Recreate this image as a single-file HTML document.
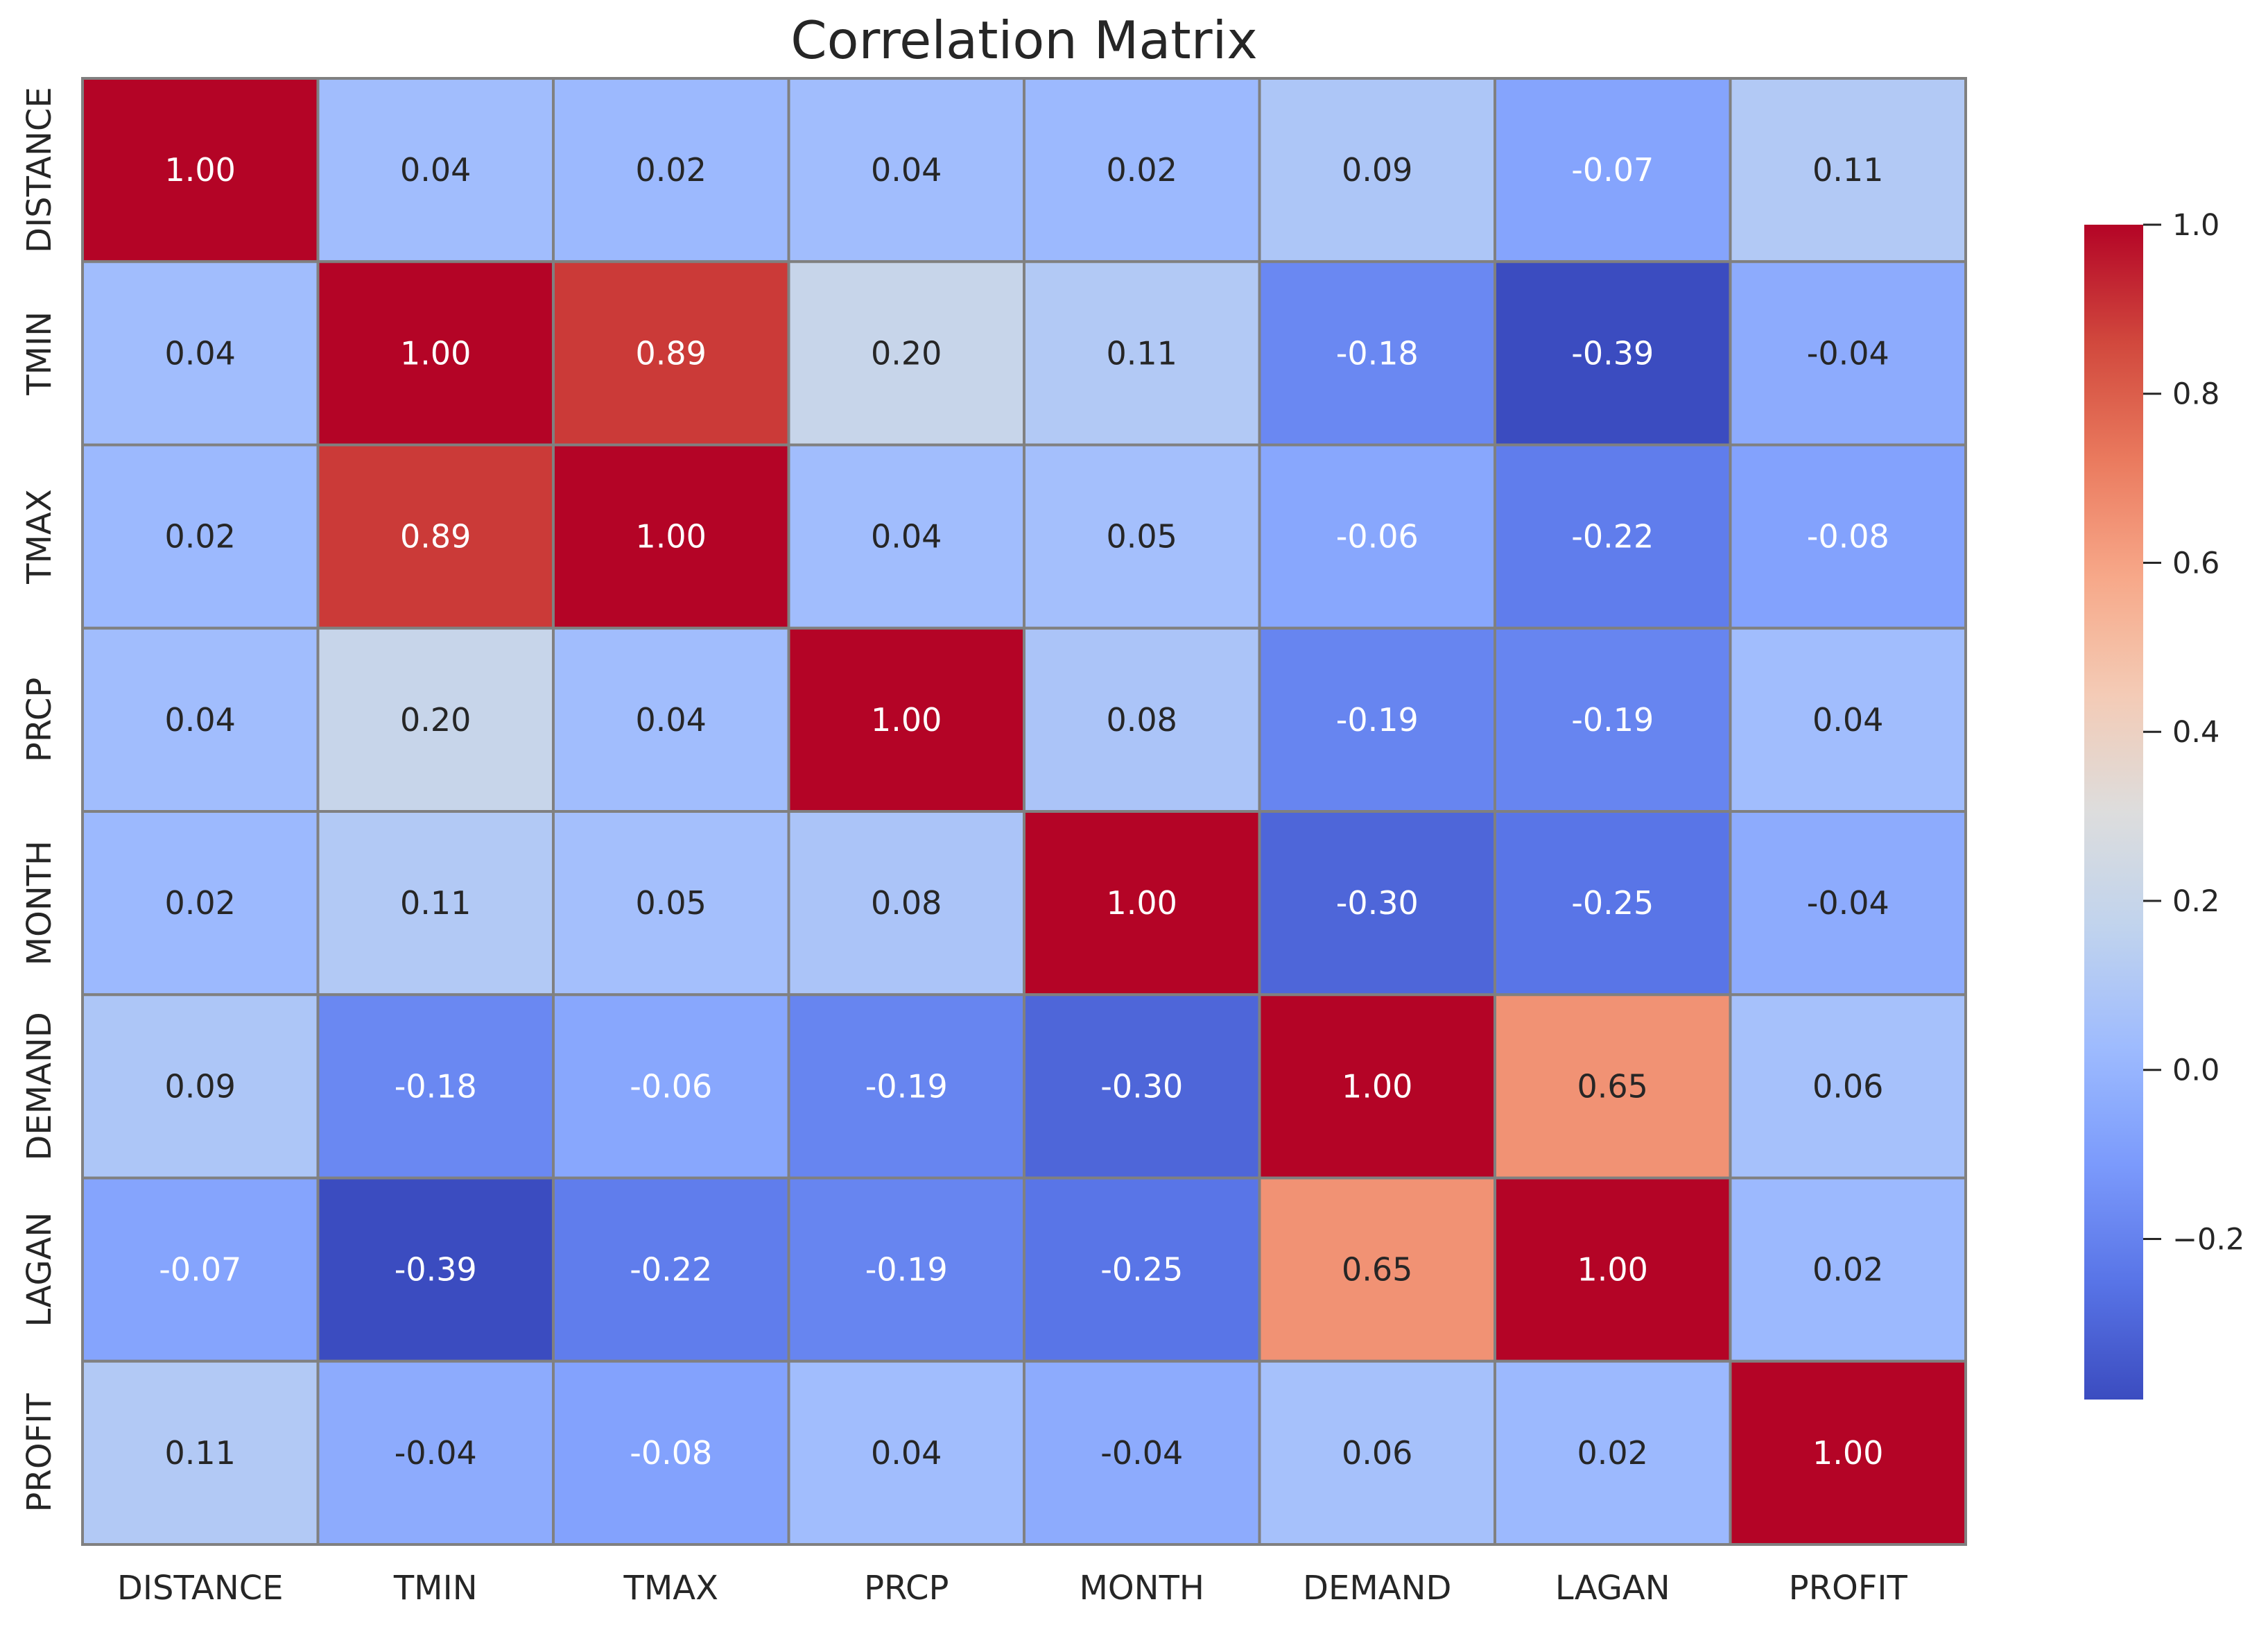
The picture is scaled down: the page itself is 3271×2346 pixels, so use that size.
<!DOCTYPE html>
<html><head><meta charset="utf-8"><style>
html,body{margin:0;padding:0;background:#fff;}
svg{display:block;font-family:"DejaVu Sans","Liberation Sans",sans-serif;}
</style></head><body>
<svg id="chart" width="3271" height="2346" viewBox="0 0 3271 2346" xmlns="http://www.w3.org/2000/svg">
<rect x="0" y="0" width="3271" height="2346" fill="#fff"/>
<text x="1477" y="84" font-size="75" fill="#262626" text-anchor="middle">Correlation Matrix</text>
<g id="cells"></g>
<g id="labels"></g>
<defs><linearGradient id="cbgrad" x1="0" y1="1" x2="0" y2="0"></linearGradient></defs>
<rect id="cbar" x="3006" y="324" width="85" height="1694" fill="url(#cbgrad)"/>
<g id="cbticks"></g>
</svg>
<script>
const variables = ["DISTANCE","TMIN","TMAX","PRCP","MONTH","DEMAND","LAGAN","PROFIT"];
const corrRows = [
 [1.00,0.04,0.02,0.04,0.02,0.09,-0.07,0.11],
 [0.04,1.00,0.89,0.20,0.11,-0.18,-0.39,-0.04],
 [0.02,0.89,1.00,0.04,0.05,-0.06,-0.22,-0.08],
 [0.04,0.20,0.04,1.00,0.08,-0.19,-0.19,0.04],
 [0.02,0.11,0.05,0.08,1.00,-0.30,-0.25,-0.04],
 [0.09,-0.18,-0.06,-0.19,-0.30,1.00,0.65,0.06],
 [-0.07,-0.39,-0.22,-0.19,-0.25,0.65,1.00,0.02],
 [0.11,-0.04,-0.08,0.04,-0.04,0.06,0.02,1.00]
];
const cbTicks = [-0.2,0.0,0.2,0.4,0.6,0.8,1.0];
const vmin = -0.39, vmax = 1.0;

const NS="http://www.w3.org/2000/svg";
const L=119,T=113,R=2835,B=2227;
const n=variables.length, cw=(R-L)/n, ch=(B-T)/n;
const cmap=[[0.2298,0.2987,0.7537],[0.3467,0.4565,0.9049],[0.4814,0.6049,0.9888],[0.6196,0.7334,0.9979],[0.7537,0.8280,0.9342],[0.8654,0.8654,0.8654],[0.9563,0.7975,0.7134],[0.9686,0.6583,0.5370],[0.9190,0.4800,0.3690],[0.8181,0.2823,0.2382],[0.7057,0.0156,0.1502]];
function colorRGB(v){let t=(v-vmin)/(vmax-vmin);t=Math.max(0,Math.min(1,t));const p=t*10,i=Math.min(9,Math.floor(p)),f=p-i;return cmap[i].map((c,k)=>c+(cmap[i+1][k]-c)*f);}
function css(c){return "rgb("+c.map(x=>Math.round(x*255)).join(",")+")";}
function darkText(v){return v>-0.05 && v<0.8;}
const xOf=j=>L+j*cw, yOf=i=>T+i*ch;
function mk(tag,attrs,parent){const e=document.createElementNS(NS,tag);for(const k in attrs)e.setAttribute(k,attrs[k]);parent.appendChild(e);return e;}
const cells=document.getElementById('cells');
corrRows.forEach((row,i)=>row.forEach((v,j)=>{
  const c=colorRGB(v);
  const r=mk('rect',{x:xOf(j),y:yOf(i),width:cw,height:ch,fill:css(c),stroke:'#808080','stroke-width':4},cells);
  
  
  const t=mk('text',{x:xOf(j)+cw/2,y:yOf(i)+ch/2+16,'font-size':46,'text-anchor':'middle',fill:darkText(v)?'#262626':'#ffffff'},cells);
  t.textContent=v.toFixed(2);
  
  
}));
const labels=document.getElementById('labels');
variables.forEach((name,k)=>{
  const tx=mk('text',{x:xOf(k)+cw/2,y:2306,'font-size':48,'text-anchor':'middle',fill:'#262626'},labels);
  tx.textContent=name;
  
  
  const cy=yOf(k)+ch/2;
  const ty=mk('text',{x:0,y:0,'font-size':48,'text-anchor':'middle',fill:'#262626',transform:'translate(73,'+cy+') rotate(-90)'},labels);
  ty.textContent=name;
  
  
});
const grad=document.getElementById('cbgrad');
for(let s=0;s<=20;s++){const v=vmin+(vmax-vmin)*s/20;mk('stop',{offset:(s/20),'stop-color':css(colorRGB(v))},grad);}
const cbT=324,cbB=2018;
const cbY=v=>cbB-(v-vmin)/(vmax-vmin)*(cbB-cbT);
const cbg=document.getElementById('cbticks');
cbTicks.forEach(v=>{
  const y=cbY(v);
  const ln=mk('line',{x1:3091,x2:3117,y1:y,y2:y,stroke:'#262626','stroke-width':3},cbg);
  
  
  const t=mk('text',{x:3133,y:y+15,'font-size':43,fill:'#262626'},cbg);
  t.textContent=(v<0?'\u2212'+Math.abs(v).toFixed(1):v.toFixed(1));
  
  
});
</script>
</body></html>
